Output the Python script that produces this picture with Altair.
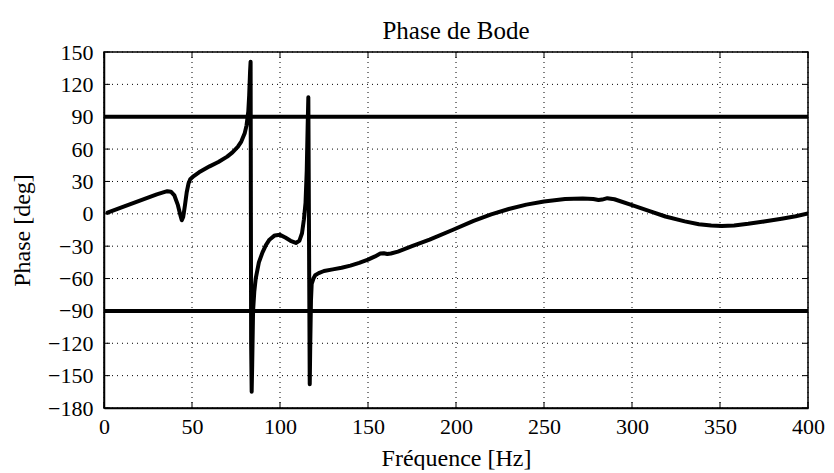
import altair as alt
import pandas as pd

freq = [2, 10, 20, 30, 35, 36, 38, 40, 42, 43.5, 44.2, 45, 46, 47, 48, 49, 51, 54,
        60, 65, 70, 73, 76, 78, 80, 81, 82, 82.5, 83, 83.3,
        83.6, 83.9, 84.2, 84.7, 85.4, 86.2, 88, 90, 92, 94, 97, 100, 103, 106, 109,
        111, 112.5, 113.6, 114.5, 115.2, 115.7, 116.1,
        116.6, 116.9, 117.2, 117.6, 118, 119, 120, 122, 125, 130, 135, 140, 145, 150,
        154, 157, 159, 161, 163, 167, 175, 185, 198, 210, 220, 230, 240, 250, 262,
        272, 278, 281, 283, 286, 290, 300, 310, 319, 330, 338, 345, 351, 358, 366,
        375, 385, 393, 400]
phase = [1, 6, 12, 18, 20.5, 21, 20.5, 17, 8, -2, -6, -3, 8, 20, 28, 32, 35, 38.5,
         44, 48, 53, 57, 62, 67, 75, 82, 95, 110, 132, 141,
         -120, -165, -140, -90, -72, -60, -45, -36, -29, -24, -20, -19.5, -22, -25, -27,
         -25, -18, -5, 10, 40, 80, 108,
         -60, -158, -120, -80, -65, -60, -57, -55, -53, -51.5, -50, -48, -45.5, -42.5,
         -39.5, -36.8, -36.5, -37.2, -36.8, -35, -30, -24, -15, -6.5, -0.5, 4.5, 8.5, 11.5, 13.7,
         14.2, 13.7, 12.8, 13.2, 14.5, 13.5, 8, 2.5, -2.5, -7, -9.6, -10.8, -11.2, -10.8, -9.3,
         -7.2, -4.5, -2.3, 0.3]
ref_lines = [90, -90]
x_ticks = [0, 50, 100, 150, 200, 250, 300, 350, 400]
y_ticks = [150, 120, 90, 60, 30, 0, -30, -60, -90, -120, -150, -180]

df = pd.DataFrame({"f": freq, "p": phase, "i": range(len(freq))})
W, H = 704, 356
FONT = "Liberation Serif"

xs = alt.Scale(domain=[0, 400], nice=False, zero=False)
ys = alt.Scale(domain=[-180, 150], nice=False, zero=False)

ax_x = alt.Axis(values=x_ticks, title="Fréquence [Hz]", grid=False, tickSize=0,
                labelPadding=8, titlePadding=9, labelOverlap=False, labelFlush=False)
ax_y = alt.Axis(values=y_ticks, title="Phase [deg]", grid=False, tickSize=0,
                labelPadding=11, titlePadding=13, labelOverlap=False, labelFlush=False)

xt = pd.DataFrame({"t": x_ticks})
yt = pd.DataFrame({"t": y_ticks})

grid_x = alt.Chart(xt).mark_rule(color="black", strokeWidth=1, strokeDash=[1, 4]).encode(
    x=alt.X("t:Q", scale=xs, axis=ax_x))
grid_y = alt.Chart(yt).mark_rule(color="black", strokeWidth=1, strokeDash=[1, 4]).encode(
    y=alt.Y("t:Q", scale=ys, axis=ax_y))

curve = alt.Chart(df).mark_line(color="black", strokeWidth=4, strokeJoin="round",
                                strokeCap="round", clip=True).encode(
    x=alt.X("f:Q", scale=xs, axis=ax_x),
    y=alt.Y("p:Q", scale=ys, axis=ax_y),
    order="i:Q",
)

hl = alt.Chart(pd.DataFrame({"y": ref_lines})).mark_rule(color="black", strokeWidth=4).encode(
    y=alt.Y("y:Q", scale=ys, axis=ax_y), x=alt.value(0), x2=alt.value(W))

tick_bot = alt.Chart(xt).mark_rule(color="black", strokeWidth=1).encode(
    x=alt.X("t:Q", scale=xs, axis=ax_x), y=alt.value(H), y2=alt.value(H - 6))
tick_top = alt.Chart(xt).mark_rule(color="black", strokeWidth=1).encode(
    x=alt.X("t:Q", scale=xs, axis=ax_x), y=alt.value(0), y2=alt.value(6))
tick_l = alt.Chart(yt).mark_rule(color="black", strokeWidth=1).encode(
    y=alt.Y("t:Q", scale=ys, axis=ax_y), x=alt.value(0), x2=alt.value(6))
tick_r = alt.Chart(yt).mark_rule(color="black", strokeWidth=1).encode(
    y=alt.Y("t:Q", scale=ys, axis=ax_y), x=alt.value(W), x2=alt.value(W - 6))

chart = alt.layer(grid_x, grid_y, curve, hl, tick_bot, tick_top, tick_l, tick_r).properties(
    width=W, height=H,
    title=alt.TitleParams("Phase de Bode", font=FONT, fontSize=25, fontWeight="normal",
                          color="black", offset=-3),
    autosize=alt.AutoSizeParams(type="none"),
    padding={"left": 96, "top": 44, "right": 17, "bottom": 62},
).configure_view(stroke="black", strokeWidth=1.5).configure_axis(
    labelFont=FONT, labelFontSize=22, labelColor="black",
    titleFont=FONT, titleFontSize=24, titleFontWeight="normal", titleColor="black",
    domainColor="black", domainWidth=1.5,
).configure_axisY(labelBaseline="middle")

chart.save("out.html", embed_options={"renderer": "svg", "actions": False})
